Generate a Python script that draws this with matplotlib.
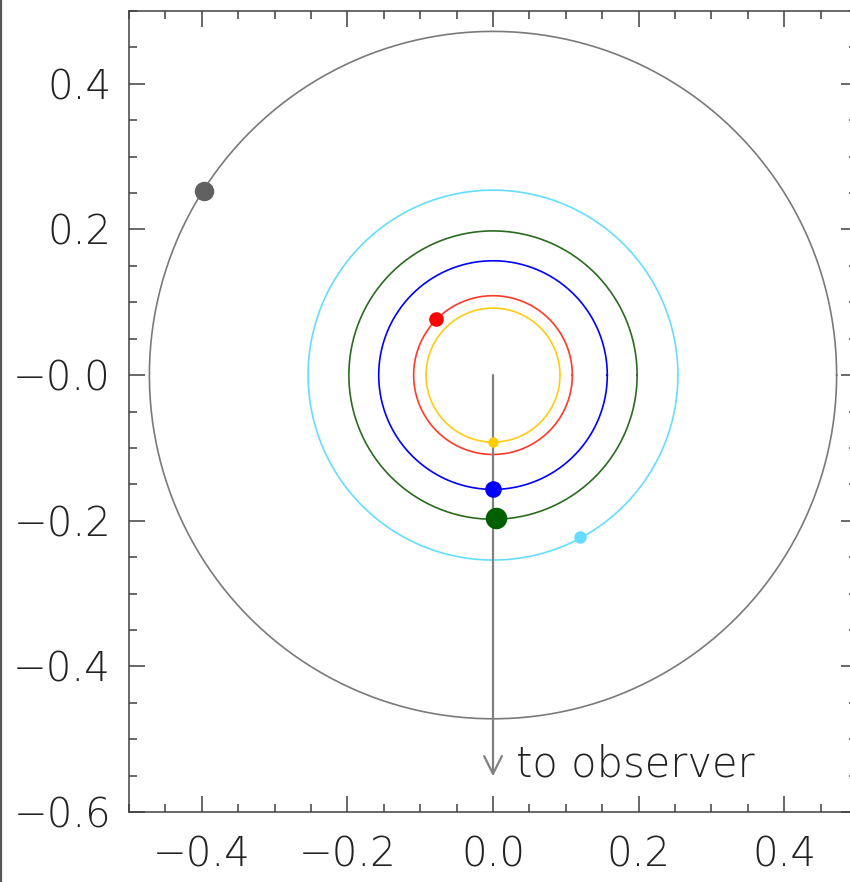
import matplotlib
matplotlib.use("Agg")
from matplotlib import pyplot as plt
from matplotlib.lines import Line2D
from matplotlib.ticker import MultipleLocator, FixedLocator
import numpy as np

# orbit radii (centred on the star at 0,0) and planet positions
radii = [0.472, 0.254, 0.198, 0.157, 0.109, 0.092]
orbit_colors = ['#7a7a7a', '#66ddff', '#2b6b1f', '#0000ff', '#ff3a2a', '#ffcc11']
planet_x = [-0.397, 0.120, 0.004, 0.000, -0.078, 0.000]
planet_y = [0.253, -0.223, -0.196, -0.156, 0.077, -0.092]
planet_colors = ['#606060', '#66ddff', '#005f00', '#0000ff', '#ff0000', '#ffcc00']
planet_sizes = [14.0, 9.0, 15.5, 12.0, 10.5, 7.5]

arrow_end = -0.551
xticks = [-0.4, -0.2, 0.0, 0.2, 0.4]
xticklabels = ['\u22120.4', '\u22120.2', '0.0', '0.2', '0.4']
yticks = [0.4, 0.2, 0.0, -0.2, -0.4, -0.6]
yticklabels = ['0.4', '0.2', '\u22120.0', '\u22120.2', '\u22120.4', '\u22120.6']

plt.rcParams['font.family'] = ['DejaVu Sans']

fig = plt.figure(figsize=(8.5, 8.82), dpi=100)
ax = fig.add_axes([129/850, 70/882, 728/850, 801/882])

t = np.linspace(0, 2*np.pi, 400)
for r, c in zip(radii, orbit_colors):
    ax.plot(r*np.cos(t), r*np.sin(t), '-', color=c, lw=1.2)

ax.annotate('', xy=(0, arrow_end), xytext=(0, 0),
            arrowprops=dict(arrowstyle='->', color='#808080', lw=1.6,
                            mutation_scale=32, shrinkA=0, shrinkB=0))
ax.text(0.032, arrow_end, 'to observer', fontsize=30, color='#222222',
        fontweight='light', va='baseline', ha='left')

for x, y, c, s in zip(planet_x, planet_y, planet_colors, planet_sizes):
    ax.plot(x, y, 'o', color=c, markersize=s, markeredgewidth=0, zorder=5)

ax.set_xlim(-0.5, 0.5)
ax.set_ylim(-0.6, 0.5)
ax.xaxis.set_major_locator(FixedLocator(xticks))
ax.set_xticklabels(xticklabels, fontweight='light')
ax.yaxis.set_major_locator(FixedLocator(yticks))
ax.set_yticklabels(yticklabels, fontweight='light')
ax.xaxis.set_minor_locator(MultipleLocator(0.05))
ax.yaxis.set_minor_locator(MultipleLocator(0.05))
ax.tick_params(which='both', direction='in', top=True, right=True,
               color='#404040', width=1.1, labelsize=29, labelcolor='#222222')
ax.tick_params(which='major', length=11.5)
ax.tick_params(which='minor', length=6)
ax.tick_params(axis='y', pad=13)
ax.tick_params(axis='x', pad=17)
for sp in ax.spines.values():
    sp.set_color('#404040')
    sp.set_linewidth(1.1)

fig.add_artist(Line2D([0.0015, 0.0015], [0, 1], color='#555555', lw=1.6))

plt.savefig('out.png', dpi=100)
